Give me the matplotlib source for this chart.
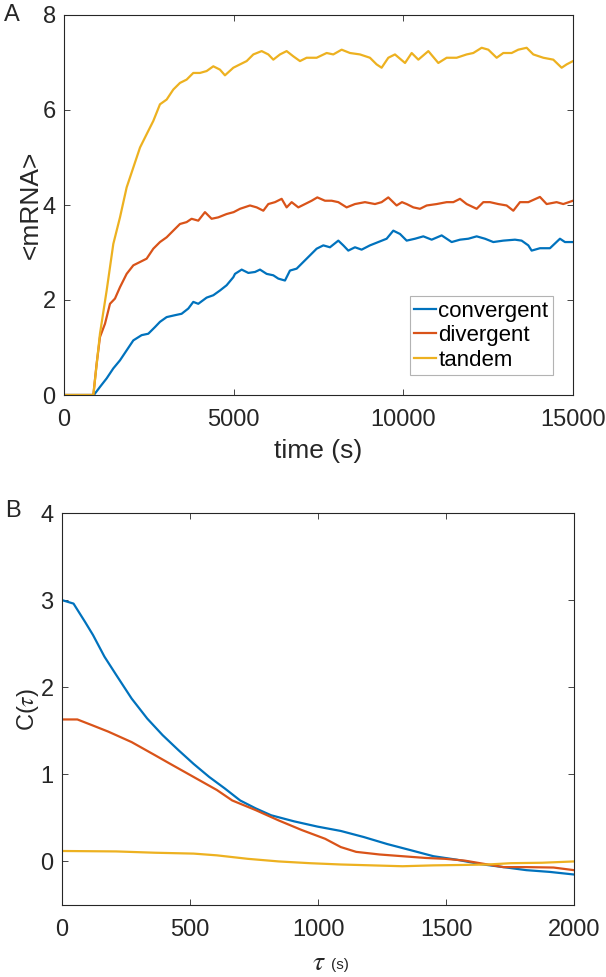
import numpy as np
import matplotlib.pyplot as plt

plt.rcParams['font.family'] = ['Liberation Sans', 'DejaVu Sans']
plt.rcParams['mathtext.fontset'] = 'stix'

# panel A: <mRNA> over time
t_conv = [0, 880, 1060, 1257, 1453, 1650, 1846, 2043, 2288, 2484, 2681, 2828, 3025, 3270, 3466,
          3663, 3810, 3957, 4203, 4400, 4596, 4792, 4990, 5039, 5236, 5432, 5629, 5776, 5972,
          6168, 6316, 6512, 6659, 6856, 7052, 7249, 7445, 7642, 7838, 8084, 8231, 8378, 8575,
          8771, 9016, 9262, 9508, 9704, 9902, 10098, 10344, 10589, 10835, 11130, 11424, 11670,
          11915, 12161, 12406, 12652, 12946, 13290, 13486, 13683, 13781, 14026, 14321, 14616,
          14763, 15000]
mrna_conv = [0, 0, 0.17, 0.35, 0.56, 0.73, 0.94, 1.15, 1.26, 1.29, 1.43, 1.54, 1.64, 1.68, 1.71,
             1.82, 1.96, 1.92, 2.05, 2.10, 2.20, 2.31, 2.48, 2.55, 2.64, 2.57, 2.59, 2.64, 2.55,
             2.52, 2.45, 2.41, 2.62, 2.66, 2.80, 2.94, 3.08, 3.15, 3.11, 3.25, 3.15, 3.04, 3.11,
             3.06, 3.15, 3.22, 3.29, 3.46, 3.39, 3.25, 3.29, 3.34, 3.27, 3.36, 3.22, 3.27,
             3.29, 3.34, 3.29, 3.22, 3.25, 3.27, 3.25, 3.15, 3.04, 3.09, 3.09, 3.29,
             3.22, 3.22]

t_div = [0, 865, 962, 1060, 1208, 1355, 1502, 1650, 1846, 2043, 2240, 2435, 2632, 2828, 3025,
         3220, 3417, 3614, 3760, 3957, 4154, 4350, 4547, 4792, 5000, 5187, 5481, 5678, 5874,
         6021, 6218, 6414, 6561, 6709, 6905, 7102, 7298, 7465, 7691, 7887, 8084, 8329, 8575,
         8869, 9164, 9360, 9557, 9802, 9960, 10098, 10295, 10491, 10688, 10983, 11277, 11473,
         11670, 11866, 12161, 12357, 12553, 12799, 13044, 13241, 13437, 13683, 14026, 14223,
         14517, 14714, 15000]
mrna_div = [0, 0, 0.66, 1.22, 1.50, 1.92, 2.03, 2.27, 2.55, 2.73, 2.80, 2.87, 3.08, 3.22, 3.32,
            3.46, 3.60, 3.64, 3.71, 3.67, 3.85, 3.71, 3.74, 3.81, 3.85, 3.92, 3.99, 3.95, 3.88,
            4.02, 4.06, 4.13, 3.95, 4.06, 3.95, 4.02, 4.09, 4.16, 4.09, 4.09, 4.06, 3.95, 4.02,
            4.06, 4.02, 4.06, 4.16, 3.99, 4.06, 4.02, 3.95, 3.92, 3.99, 4.02, 4.06, 4.06,
            4.13, 4.02, 3.92, 4.06, 4.06, 4.02, 3.99, 3.88, 4.06, 4.06, 4.17, 4.02,
            4.06, 4.02, 4.09]

t_tan = [0, 865, 1060, 1257, 1453, 1650, 1846, 2043, 2240, 2435, 2632, 2828, 3025, 3220, 3417,
         3614, 3810, 4006, 4203, 4400, 4596, 4743, 4990, 5185, 5383, 5580, 5825, 6021, 6168,
         6365, 6561, 6758, 6954, 7150, 7445, 7740, 7936, 8182, 8427, 8722, 9016, 9213, 9360,
         9557, 9753, 10050, 10246, 10442, 10737, 11031, 11277, 11571, 11866, 12062, 12308,
         12504, 12750, 12946, 13192, 13388, 13634, 13830, 14125, 14419, 14665, 14812, 15000]
mrna_tan = [0, 0, 1.29, 2.20, 3.18, 3.74, 4.37, 4.79, 5.21, 5.49, 5.77, 6.12, 6.22, 6.43, 6.57,
            6.64, 6.78, 6.78, 6.82, 6.92, 6.85, 6.73, 6.89, 6.96, 7.03, 7.17, 7.24, 7.17, 7.06,
            7.17, 7.24, 7.13, 7.03, 7.10, 7.10, 7.20, 7.17, 7.27, 7.20, 7.17, 7.10, 6.96, 6.89,
            7.10, 7.17, 6.99, 7.20, 7.06, 7.24, 6.99, 7.10, 7.10, 7.17, 7.20, 7.31,
            7.27, 7.10, 7.20, 7.20, 7.27, 7.31, 7.17, 7.10, 7.06, 6.89, 6.96, 7.03]

# panel B: autocorrelation C(tau)
tau_conv = [0, 45, 60, 90, 121, 166, 212, 272, 333, 393, 454, 514, 575, 635, 696, 756, 817, 907,
            998, 1089, 1179, 1270, 1361, 1451, 1542, 1633, 1724, 1814, 1905, 2000]
c_conv = [3.0, 2.96, 2.89, 2.75, 2.60, 2.35, 2.14, 1.87, 1.64, 1.45, 1.28, 1.12, 0.97, 0.84, 0.70,
          0.61, 0.53, 0.46, 0.40, 0.35, 0.28, 0.20, 0.13, 0.06, 0.02, -0.03, -0.065, -0.10,
          -0.12, -0.15]

tau_div = [0, 60, 121, 181, 272, 363, 423, 514, 605, 665, 756, 847, 937, 1028, 1089, 1149, 1240,
           1330, 1421, 1497, 1572, 1663, 1724, 1814, 1920, 2000]
c_div = [1.63, 1.63, 1.56, 1.49, 1.37, 1.22, 1.12, 0.97, 0.82, 0.70, 0.59, 0.47, 0.36, 0.26,
         0.165, 0.11, 0.08, 0.06, 0.04, 0.03, 0.01, -0.035, -0.065, -0.065, -0.07, -0.10]

tau_tan = [0, 212, 363, 514, 605, 726, 847, 968, 1089, 1210, 1330, 1451, 1572, 1663, 1754, 1875,
           2000]
c_tan = [0.12, 0.115, 0.10, 0.09, 0.07, 0.03, 0.0, -0.02, -0.035, -0.045, -0.055, -0.045, -0.04,
         -0.035, -0.02, -0.015, 0.0]

labels = ['convergent', 'divergent', 'tandem']
colors = ['#0072BD', '#D95319', '#EDB120']

W, H = 606, 977
fig = plt.figure(figsize=(W / 100, H / 100), dpi=100)

def matlab_axes(ax):
    for s in ax.spines.values():
        s.set_color('#262626')
        s.set_linewidth(0.8)
    ax.tick_params(direction='in', top=True, right=True, length=4, width=0.6,
                   color='#262626', labelcolor='#262626', labelsize=17)
    ax.tick_params(axis='x', pad=10)
    ax.tick_params(axis='y', pad=6)

# panel A
axA = fig.add_axes([64 / W, 1 - 395 / H, (573 - 64) / W, (395 - 15) / H])
axA.plot(t_conv, mrna_conv, color=colors[0], lw=1.6, label=labels[0])
axA.plot(t_div, mrna_div, color=colors[1], lw=1.6, label=labels[1])
axA.plot(t_tan, mrna_tan, color=colors[2], lw=1.6, label=labels[2])
axA.set_xlim(0, 15000)
axA.set_ylim(0, 8)
axA.set_xticks([0, 5000, 10000, 15000])
axA.set_yticks([0, 2, 4, 6, 8])
matlab_axes(axA)
axA.set_xlabel('time (s)', fontsize=19, color='#262626', labelpad=6)
axA.set_ylabel('<mRNA>', fontsize=19, color='#262626', labelpad=0)
leg = axA.legend(loc='lower right', fontsize=16, frameon=True, fancybox=False,
                 handlelength=1.0, handletextpad=0.1, borderpad=0.2, labelspacing=0.15,
                 borderaxespad=0.9)
leg.get_frame().set_edgecolor('#a0a0a0')
leg.get_frame().set_linewidth(0.8)
fig.text(12 / W, 1 - 15 / H, 'A', fontsize=17, color='#262626', ha='center', va='center')

# panel B
axB = fig.add_axes([62 / W, 1 - 905 / H, (574 - 62) / W, (905 - 513) / H])
axB.plot(tau_conv, c_conv, color=colors[0], lw=1.6)
axB.plot(tau_div, c_div, color=colors[1], lw=1.6)
axB.plot(tau_tan, c_tan, color=colors[2], lw=1.6)
axB.set_xlim(0, 2000)
axB.set_ylim(-0.5, 4)
axB.set_xticks([0, 500, 1000, 1500, 2000])
axB.set_yticks([0, 1, 2, 3, 4])
matlab_axes(axB)
axB.set_ylabel(r'C($\tau$)', fontsize=17, color='#262626', labelpad=0)
fig.text(319 / W, 1 - 963 / H, r'$\tau$', fontsize=20, color='#262626', ha='center', va='center')
fig.text(331 / W, 1 - 965 / H, '(s)', fontsize=11, color='#262626', ha='left', va='center')
fig.text(13 / W, 1 - 511 / H, 'B', fontsize=17, color='#262626', ha='center', va='center')

fig.savefig('out.png', dpi=100)
